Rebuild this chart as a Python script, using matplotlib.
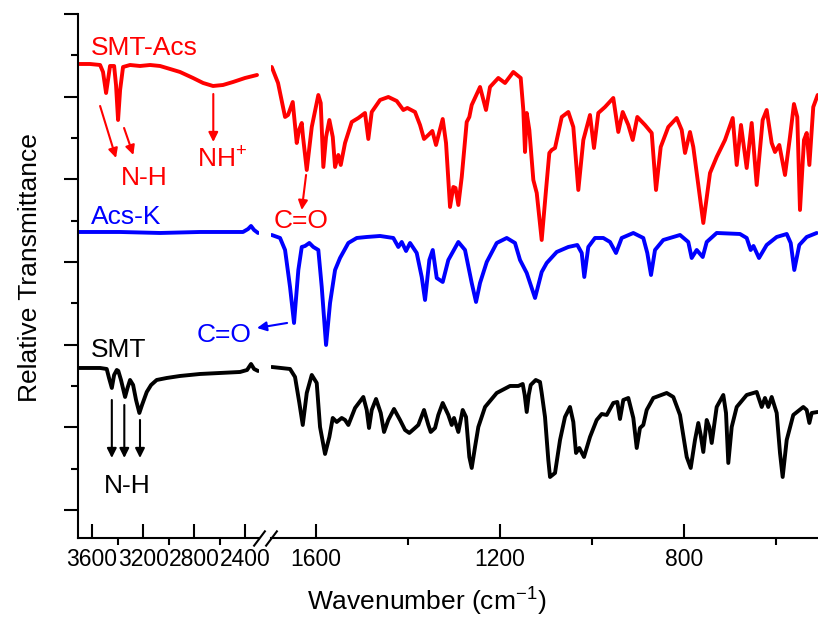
import numpy as np
import matplotlib.pyplot as plt
from matplotlib.ticker import FixedLocator

plt.rcParams['font.family'] = ['Liberation Sans', 'DejaVu Sans']
plt.rcParams['mathtext.fontset'] = 'custom'
plt.rcParams['mathtext.rm'] = 'Liberation Sans'
plt.rcParams['mathtext.it'] = 'Liberation Sans:italic'
plt.rcParams['mathtext.default'] = 'regular'

# ---- data (wavenumber in cm-1, relative transmittance with offsets, a.u.) ----
# SMT-Acs, high wavenumber section
acs_hi_wn = [3710, 3616, 3537, 3514, 3490, 3475, 3459, 3427, 3412, 3396, 3380, 3357, 3302,
             3224, 3145, 3067, 2988, 2910, 2808, 2729, 2651, 2573, 2494, 2400, 2306]
acs_hi_t = [47.4, 47.4, 47.3, 46.6, 44.5, 45.8, 47.2, 47.2, 45.3, 41.8, 44.8, 47.1, 47.3,
            47.2, 47.3, 47.2, 46.9, 46.6, 46.0, 45.5, 45.2, 45.3, 45.6, 46.0, 46.3]
# SMT-Acs, fingerprint section
acs_lo_wn = [1696.4, 1682.7, 1667.4, 1660.9, 1650.7, 1642.0, 1637.0, 1631.1, 1628.3, 1620.2,
             1609.3, 1595.0, 1589.8, 1584.1, 1578.2, 1571.0, 1563.6, 1558.6, 1551.5, 1546.2,
             1536.9, 1522.3, 1507.9, 1493.4, 1486.2, 1478.8, 1460.7, 1442.6, 1424.4, 1410.0,
             1401.3, 1384.6, 1373.7, 1365.0, 1355.6, 1346.9, 1338.9, 1331.7, 1324.3, 1317.1,
             1308.4, 1301.2, 1296.4, 1290.3, 1282.9, 1272.1, 1266.4, 1261.2, 1243.1, 1230.1,
             1221.4, 1203.3, 1188.7, 1170.7, 1154.6, 1148.9, 1145.2, 1141.5, 1135.8, 1127.1,
             1119.7, 1108.9, 1099.5, 1092.3, 1087.1, 1079.9, 1065.3, 1051.0, 1040.1, 1029.2,
             1018.3, 1003.8, 995.1, 985.7, 971.1, 953.1, 942.2, 932.6, 920.4, 910.8,
             900.8, 884.1, 869.5, 860.1, 849.9, 833.4, 815.1, 804.2, 797.0, 786.2,
             779.0, 757.2, 742.6, 728.1, 710.0, 693.2, 684.5, 675.2, 662.8, 651.9,
             641.0, 628.0, 619.3, 608.4, 601.2, 591.8, 579.4, 568.6, 559.9, 552.7,
             546.8, 538.1, 532.2, 526.4, 517.9, 508.3]
acs_lo_t = [47.1, 45.5, 42.1, 42.3, 43.6, 39.5, 40.8, 41.5, 40.1, 36.8,
            41.1, 44.3, 43.5, 37.1, 40.1, 41.8, 40.1, 37.1, 38.3, 37.3,
            39.5, 41.6, 42.0, 42.5, 39.9, 42.6, 43.8, 44.1, 43.7, 42.8,
            43.0, 42.6, 41.3, 39.9, 40.3, 40.7, 39.3, 40.6, 41.9, 39.5,
            33.1, 35.1, 35.0, 33.3, 36.1, 41.6, 42.1, 43.3, 45.1, 42.8,
            45.1, 46.0, 45.5, 46.6, 46.0, 42.8, 38.6, 42.5, 40.8, 35.8,
            34.5, 29.8, 34.8, 38.5, 38.8, 39.0, 42.1, 42.6, 41.1, 34.8,
            39.8, 42.3, 39.0, 42.5, 43.1, 44.0, 40.6, 42.6, 41.3, 39.8,
            42.1, 41.3, 40.5, 34.8, 39.1, 41.1, 42.0, 40.8, 38.5, 40.6,
            39.1, 31.5, 36.5, 38.1, 39.8, 42.0, 37.3, 41.3, 37.0, 41.5,
            35.3, 41.8, 42.8, 39.5, 38.6, 39.3, 36.3, 40.1, 43.4, 42.1,
            32.8, 39.8, 40.5, 37.3, 43.1, 44.3]

# Acs-K
acsk_hi_wn = [3710, 3380, 3067, 2753, 2416, 2376, 2353, 2329, 2298]
acsk_hi_t = [30.6, 30.6, 30.5, 30.6, 30.6, 30.9, 31.2, 30.8, 30.5]
acsk_lo_wn = [1696.4, 1678.3, 1667.4, 1656.6, 1647.9, 1638.5, 1631.1, 1623.9, 1614.6, 1605.9,
              1595.0, 1587.6, 1578.2, 1569.5, 1558.6, 1547.8, 1529.7, 1511.4, 1489.7, 1460.7,
              1431.8, 1420.9, 1413.5, 1404.1, 1395.4, 1380.9, 1370.0, 1362.8, 1353.4, 1346.0,
              1337.3, 1324.3, 1312.1, 1290.3, 1275.8, 1261.2, 1251.8, 1243.1, 1228.5, 1206.8,
              1185.0, 1167.0, 1156.1, 1141.5, 1123.4, 1108.9, 1098.0, 1076.2, 1051.0, 1031.4,
              1021.8, 1016.2, 1007.5, 992.9, 974.8, 960.2, 947.2, 934.8, 909.5, 887.8,
              879.1, 871.0, 862.3, 844.3, 807.9, 789.9, 782.5, 771.6, 758.5, 749.8,
              728.1, 677.4, 662.8, 654.1, 648.0, 636.0, 619.3, 597.5, 575.7, 567.0,
              559.2, 548.3, 532.2, 510.5]
acsk_lo_t = [30.3, 30.0, 28.8, 25.1, 21.5, 26.8, 29.1, 29.2, 29.5, 29.1,
             28.8, 25.1, 19.3, 23.5, 26.8, 28.0, 29.5, 30.0, 30.1, 30.2,
             30.0, 29.1, 29.6, 28.7, 29.5, 28.5, 26.1, 23.8, 27.8, 28.8,
             26.0, 25.6, 27.8, 29.6, 28.8, 25.5, 23.6, 25.5, 27.6, 29.5,
             30.0, 29.5, 27.8, 26.5, 24.0, 26.6, 27.5, 28.6, 29.1, 29.3,
             28.5, 26.1, 29.1, 30.0, 30.0, 29.6, 28.5, 30.0, 30.5, 30.0,
             28.5, 26.3, 28.8, 29.8, 30.3, 29.6, 28.0, 28.8, 28.1, 29.6,
             30.5, 30.4, 30.0, 28.8, 29.2, 28.0, 29.3, 30.1, 30.4, 29.5,
             26.8, 29.3, 30.1, 30.5]

# SMT
smt_hi_wn = [3710, 3537, 3485, 3467, 3445, 3427, 3406, 3394, 3373, 3341, 3322, 3302, 3278,
             3255, 3229, 3208, 3171, 3137, 3093, 3014, 2910, 2753, 2596, 2439, 2384, 2353,
             2329, 2298]
smt_hi_t = [17.0, 17.0, 16.9, 16.0, 15.0, 16.3, 16.8, 16.7, 15.8, 14.1, 15.0, 15.8, 15.3,
            13.8, 12.5, 13.3, 14.6, 15.3, 15.8, 16.0, 16.2, 16.4, 16.5, 16.6, 16.8, 17.4,
            16.9, 16.7]
smt_lo_wn = [1696.4, 1656.6, 1645.7, 1636.3, 1628.9, 1620.2, 1609.3, 1598.5, 1591.3, 1580.4,
             1571.0, 1563.6, 1554.9, 1544.1, 1536.9, 1529.7, 1515.1, 1497.1, 1489.7, 1484.7,
             1478.8, 1469.4, 1459.2, 1452.0, 1442.7, 1430.3, 1417.2, 1406.3, 1397.0, 1384.6,
             1377.4, 1365.0, 1355.6, 1350.4, 1341.0, 1333.9, 1324.3, 1312.1, 1304.7, 1299.7,
             1290.3, 1280.8, 1273.6, 1266.4, 1261.2, 1254.0, 1246.8, 1232.2, 1206.8, 1177.8,
             1159.8, 1150.2, 1145.9, 1141.5, 1137.1, 1132.8, 1121.9, 1112.6, 1108.9, 1101.7,
             1094.5, 1090.8, 1079.9, 1069.0, 1058.2, 1047.3, 1040.1, 1034.2, 1027.0, 1016.8,
             1003.8, 989.2, 978.3, 967.4, 953.1, 944.3, 938.5, 931.3, 920.4, 909.5,
             902.1, 895.0, 887.8, 880.4, 866.0, 836.9, 822.5, 807.9, 793.3, 784.6,
             775.3, 768.1, 762.9, 757.2, 749.8, 744.2, 738.9, 728.1, 713.7, 707.8,
             702.8, 695.4, 684.5, 662.8, 641.0, 630.1, 623.0, 615.8, 608.4, 597.5,
             590.3, 584.5, 575.7, 561.4, 539.6, 532.2, 526.4, 521.3, 508.3]
smt_lo_t = [17.1, 16.9, 16.1, 13.5, 11.3, 14.5, 16.3, 15.5, 11.1, 8.4,
            10.1, 12.0, 11.6, 12.0, 11.8, 11.3, 13.0, 14.1, 12.8, 11.0,
            12.8, 13.9, 12.5, 10.6, 11.8, 12.9, 11.8, 10.8, 10.5, 11.0,
            11.3, 12.8, 11.3, 10.6, 11.0, 12.3, 13.5, 12.3, 11.3, 12.0,
            10.6, 12.8, 12.1, 8.1, 7.0, 9.1, 11.1, 13.1, 14.5, 15.2,
            15.2, 15.4, 14.3, 12.6, 14.3, 15.3, 15.8, 15.6, 14.5, 12.1,
            7.8, 6.1, 6.5, 9.8, 12.1, 13.1, 11.6, 8.5, 9.0, 8.1,
            10.1, 11.8, 12.4, 12.3, 13.5, 13.6, 11.9, 13.8, 14.0, 12.0,
            9.0, 11.0, 11.3, 12.8, 14.0, 14.5, 14.1, 12.3, 8.1, 7.0,
            9.8, 11.5, 10.3, 8.6, 11.8, 11.1, 9.5, 13.1, 14.3, 12.5,
            7.5, 11.1, 13.1, 14.3, 14.6, 13.1, 14.0, 13.1, 14.1, 12.5,
            8.5, 6.1, 9.8, 12.3, 13.1, 12.8, 11.5, 12.5, 12.6]

hi_ticks = [3600, 3200, 2800, 2400]
hi_minor = [3400, 3000, 2600]
lo_ticks = [1600, 1200, 800]
lo_minor = [1400, 1000, 600]

# ---- figure with broken x axis ----
fig = plt.figure(figsize=(8.18, 6.19), dpi=100)
ax_l = fig.add_axes([0.0954, 0.1309, 0.2213, 0.8465])
ax_r = fig.add_axes([0.3313, 0.1309, 0.6687, 0.8465])

lw = 2.8
red, blue = '#FF0000', '#0000FF'
for ax, parts in ((ax_l, [(smt_hi_wn, smt_hi_t, 'black'), (acsk_hi_wn, acsk_hi_t, blue),
                           (acs_hi_wn, acs_hi_t, red)]),
                  (ax_r, [(smt_lo_wn, smt_lo_t, 'black'), (acsk_lo_wn, acsk_lo_t, blue),
                          (acs_lo_wn, acs_lo_t, red)])):
    for wn, t, c in parts:
        ax.plot(wn, t, color=c, lw=lw, solid_joinstyle='round', solid_capstyle='round')
    ax.set_ylim(0, 52.4)
    for s in ('top', 'right'):
        ax.spines[s].set_visible(False)
    for s in ('left', 'bottom'):
        ax.spines[s].set_linewidth(1.5)
    ax.tick_params(axis='x', which='major', direction='in', length=10, width=1.5,
                   labelsize=16.5, pad=7)
    ax.tick_params(axis='x', which='minor', direction='out', length=5, width=1.5)

ax_l.set_xlim(3710, 2290)
ax_r.set_xlim(1698, 507.6)
ax_l.set_xticks(hi_ticks)
ax_l.set_xticks(hi_minor, minor=True)
ax_r.set_xticks(lo_ticks)
ax_r.set_xticks(lo_minor, minor=True)

major_y = np.linspace(2.8, 52.4, 7)
ax_l.yaxis.set_major_locator(FixedLocator(major_y))
ax_l.yaxis.set_minor_locator(FixedLocator(major_y[:-1] + (major_y[1] - major_y[0]) / 2))
ax_l.tick_params(axis='y', which='major', direction='out', length=10, width=1.5, labelleft=False)
ax_l.tick_params(axis='y', which='minor', direction='out', length=5, width=1.5)
ax_r.spines['left'].set_visible(False)
ax_r.tick_params(axis='y', which='both', left=False, labelleft=False)

# break marks
kw = dict(marker=[(-1, -1.33), (1, 1.33)], markersize=11.5, linestyle='none',
          color='k', mec='k', mew=1.5, clip_on=False)
ax_l.plot([1], [0], transform=ax_l.transAxes, **kw)
ax_r.plot([0], [0], transform=ax_r.transAxes, **kw)

# axis labels
fig.text(427 / 818, 1 - 611 / 619, 'Wavenumber (cm$^{-1}$)', ha='center', va='baseline',
         fontsize=19)
fig.text(30 / 818, 1 - 268 / 619, 'Relative Transmittance', ha='center', va='center',
         rotation=90, fontsize=19)

# annotations
fs = 19
txt = dict(ha='center', va='baseline', fontsize=fs, clip_on=False)
ax_l.text(3192, 48.3, 'SMT-Acs', color=red, **txt)
ax_l.text(3192, 35.3, 'N-H', color=red, **txt)
ax_l.text(2580, 37.0, 'NH$^{+}$', color=red, **txt)
ax_l.text(3333, 31.4, 'Acs-K', color=blue, **txt)
ax_l.text(2565, 19.6, 'C=O', color=blue, **txt)
ax_l.text(3388, 18.1, 'SMT', color='black', **txt)
ax_l.text(3322, 4.5, 'N-H', color='black', **txt)
ax_r.text(1632, 31.0, 'C=O', color=red, **txt)


def arrow(ax, start, end, color, **kwargs):
    ax.annotate('', xy=end, xytext=start, annotation_clip=False,
                arrowprops=dict(arrowstyle='-|>', color=color, lw=1.5, mutation_scale=14,
                                shrinkA=0, shrinkB=0), **kwargs)


arrow(ax_l, (3537, 43.2), (3412, 38.0), red)
arrow(ax_l, (3349, 41.0), (3276, 38.3), red)
arrow(ax_l, (2649, 44.4), (2649, 39.6), red)
arrow(ax_r, (1621.7, 36.3), (1631.1, 32.8), red)
arrow(ax_r, (1663, 21.5), (2306, 21.0), blue, xycoords=ax_l.transData, textcoords='data')
arrow(ax_l, (3445, 13.8), (3445, 8.0), 'black')
arrow(ax_l, (3347, 13.3), (3347, 8.0), 'black')
arrow(ax_l, (3224, 11.8), (3224, 8.0), 'black')

fig.savefig('out.png', dpi=100)
